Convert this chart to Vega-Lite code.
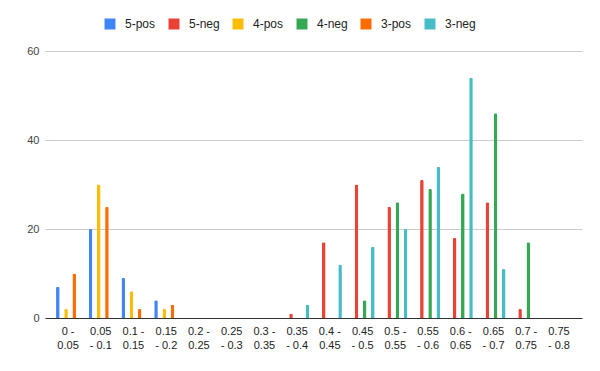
{
  "$schema": "https://vega.github.io/schema/vega-lite/v6.json",
  "width": 537,
  "height": 267,
  "autosize": {"type": "none"},
  "padding": {"left": 45, "top": 51, "right": 18, "bottom": 53},
  "background": "white",
  "config": {
    "view": {"stroke": null},
    "font": "Liberation Sans"
  },
  "data": {
    "values": [
      {"bin": "0 - 0.05", "series": "5-pos", "count": 7},
      {"bin": "0 - 0.05", "series": "5-neg", "count": 0},
      {"bin": "0 - 0.05", "series": "4-pos", "count": 2},
      {"bin": "0 - 0.05", "series": "4-neg", "count": 0},
      {"bin": "0 - 0.05", "series": "3-pos", "count": 10},
      {"bin": "0 - 0.05", "series": "3-neg", "count": 0},
      {"bin": "0.05 - 0.1", "series": "5-pos", "count": 20},
      {"bin": "0.05 - 0.1", "series": "5-neg", "count": 0},
      {"bin": "0.05 - 0.1", "series": "4-pos", "count": 30},
      {"bin": "0.05 - 0.1", "series": "4-neg", "count": 0},
      {"bin": "0.05 - 0.1", "series": "3-pos", "count": 25},
      {"bin": "0.05 - 0.1", "series": "3-neg", "count": 0},
      {"bin": "0.1 - 0.15", "series": "5-pos", "count": 9},
      {"bin": "0.1 - 0.15", "series": "5-neg", "count": 0},
      {"bin": "0.1 - 0.15", "series": "4-pos", "count": 6},
      {"bin": "0.1 - 0.15", "series": "4-neg", "count": 0},
      {"bin": "0.1 - 0.15", "series": "3-pos", "count": 2},
      {"bin": "0.1 - 0.15", "series": "3-neg", "count": 0},
      {"bin": "0.15 - 0.2", "series": "5-pos", "count": 4},
      {"bin": "0.15 - 0.2", "series": "5-neg", "count": 0},
      {"bin": "0.15 - 0.2", "series": "4-pos", "count": 2},
      {"bin": "0.15 - 0.2", "series": "4-neg", "count": 0},
      {"bin": "0.15 - 0.2", "series": "3-pos", "count": 3},
      {"bin": "0.15 - 0.2", "series": "3-neg", "count": 0},
      {"bin": "0.2 - 0.25", "series": "5-pos", "count": 0},
      {"bin": "0.2 - 0.25", "series": "5-neg", "count": 0},
      {"bin": "0.2 - 0.25", "series": "4-pos", "count": 0},
      {"bin": "0.2 - 0.25", "series": "4-neg", "count": 0},
      {"bin": "0.2 - 0.25", "series": "3-pos", "count": 0},
      {"bin": "0.2 - 0.25", "series": "3-neg", "count": 0},
      {"bin": "0.25 - 0.3", "series": "5-pos", "count": 0},
      {"bin": "0.25 - 0.3", "series": "5-neg", "count": 0},
      {"bin": "0.25 - 0.3", "series": "4-pos", "count": 0},
      {"bin": "0.25 - 0.3", "series": "4-neg", "count": 0},
      {"bin": "0.25 - 0.3", "series": "3-pos", "count": 0},
      {"bin": "0.25 - 0.3", "series": "3-neg", "count": 0},
      {"bin": "0.3 - 0.35", "series": "5-pos", "count": 0},
      {"bin": "0.3 - 0.35", "series": "5-neg", "count": 0},
      {"bin": "0.3 - 0.35", "series": "4-pos", "count": 0},
      {"bin": "0.3 - 0.35", "series": "4-neg", "count": 0},
      {"bin": "0.3 - 0.35", "series": "3-pos", "count": 0},
      {"bin": "0.3 - 0.35", "series": "3-neg", "count": 0},
      {"bin": "0.35 - 0.4", "series": "5-pos", "count": 0},
      {"bin": "0.35 - 0.4", "series": "5-neg", "count": 1},
      {"bin": "0.35 - 0.4", "series": "4-pos", "count": 0},
      {"bin": "0.35 - 0.4", "series": "4-neg", "count": 0},
      {"bin": "0.35 - 0.4", "series": "3-pos", "count": 0},
      {"bin": "0.35 - 0.4", "series": "3-neg", "count": 3},
      {"bin": "0.4 - 0.45", "series": "5-pos", "count": 0},
      {"bin": "0.4 - 0.45", "series": "5-neg", "count": 17},
      {"bin": "0.4 - 0.45", "series": "4-pos", "count": 0},
      {"bin": "0.4 - 0.45", "series": "4-neg", "count": 0},
      {"bin": "0.4 - 0.45", "series": "3-pos", "count": 0},
      {"bin": "0.4 - 0.45", "series": "3-neg", "count": 12},
      {"bin": "0.45 - 0.5", "series": "5-pos", "count": 0},
      {"bin": "0.45 - 0.5", "series": "5-neg", "count": 30},
      {"bin": "0.45 - 0.5", "series": "4-pos", "count": 0},
      {"bin": "0.45 - 0.5", "series": "4-neg", "count": 4},
      {"bin": "0.45 - 0.5", "series": "3-pos", "count": 0},
      {"bin": "0.45 - 0.5", "series": "3-neg", "count": 16},
      {"bin": "0.5 - 0.55", "series": "5-pos", "count": 0},
      {"bin": "0.5 - 0.55", "series": "5-neg", "count": 25},
      {"bin": "0.5 - 0.55", "series": "4-pos", "count": 0},
      {"bin": "0.5 - 0.55", "series": "4-neg", "count": 26},
      {"bin": "0.5 - 0.55", "series": "3-pos", "count": 0},
      {"bin": "0.5 - 0.55", "series": "3-neg", "count": 20},
      {"bin": "0.55 - 0.6", "series": "5-pos", "count": 0},
      {"bin": "0.55 - 0.6", "series": "5-neg", "count": 31},
      {"bin": "0.55 - 0.6", "series": "4-pos", "count": 0},
      {"bin": "0.55 - 0.6", "series": "4-neg", "count": 29},
      {"bin": "0.55 - 0.6", "series": "3-pos", "count": 0},
      {"bin": "0.55 - 0.6", "series": "3-neg", "count": 34},
      {"bin": "0.6 - 0.65", "series": "5-pos", "count": 0},
      {"bin": "0.6 - 0.65", "series": "5-neg", "count": 18},
      {"bin": "0.6 - 0.65", "series": "4-pos", "count": 0},
      {"bin": "0.6 - 0.65", "series": "4-neg", "count": 28},
      {"bin": "0.6 - 0.65", "series": "3-pos", "count": 0},
      {"bin": "0.6 - 0.65", "series": "3-neg", "count": 54},
      {"bin": "0.65 - 0.7", "series": "5-pos", "count": 0},
      {"bin": "0.65 - 0.7", "series": "5-neg", "count": 26},
      {"bin": "0.65 - 0.7", "series": "4-pos", "count": 0},
      {"bin": "0.65 - 0.7", "series": "4-neg", "count": 46},
      {"bin": "0.65 - 0.7", "series": "3-pos", "count": 0},
      {"bin": "0.65 - 0.7", "series": "3-neg", "count": 11},
      {"bin": "0.7 - 0.75", "series": "5-pos", "count": 0},
      {"bin": "0.7 - 0.75", "series": "5-neg", "count": 2},
      {"bin": "0.7 - 0.75", "series": "4-pos", "count": 0},
      {"bin": "0.7 - 0.75", "series": "4-neg", "count": 17},
      {"bin": "0.7 - 0.75", "series": "3-pos", "count": 0},
      {"bin": "0.7 - 0.75", "series": "3-neg", "count": 0},
      {"bin": "0.75 - 0.8", "series": "5-pos", "count": 0},
      {"bin": "0.75 - 0.8", "series": "5-neg", "count": 0},
      {"bin": "0.75 - 0.8", "series": "4-pos", "count": 0},
      {"bin": "0.75 - 0.8", "series": "4-neg", "count": 0},
      {"bin": "0.75 - 0.8", "series": "3-pos", "count": 0},
      {"bin": "0.75 - 0.8", "series": "3-neg", "count": 0}
    ]
  },
  "mark": {"type": "bar", "cornerRadiusTopLeft": 1.5, "cornerRadiusTopRight": 1.5},
  "encoding": {
    "x": {
      "field": "bin",
      "type": "nominal",
      "sort": null,
      "scale": {"paddingInner": 0.265, "paddingOuter": 0.337},
      "axis": {
        "title": null,
        "labelAngle": 0,
        "ticks": false,
        "domain": true,
        "domainColor": "#333333",
        "labelFontSize": 11,
        "labelColor": "#222222",
        "labelLineHeight": 14,
        "labelPadding": 7,
        "labelExpr": "length(split(datum.label,' ')[0]) <= 3 ? [split(datum.label,' ')[0] + ' -', split(datum.label,' ')[2]] : [split(datum.label,' ')[0], '- ' + split(datum.label,' ')[2]]"
      }
    },
    "xOffset": {
      "field": "series",
      "type": "nominal",
      "sort": ["5-pos", "5-neg", "4-pos", "4-neg", "3-pos", "3-neg"],
      "scale": {"paddingInner": 0.12, "paddingOuter": 0}
    },
    "y": {
      "field": "count",
      "type": "quantitative",
      "scale": {"domain": [0, 60], "nice": false},
      "axis": {
        "title": null,
        "values": [0, 20, 40, 60],
        "ticks": false,
        "domain": false,
        "gridColor": "#cccccc",
        "labelFontSize": 11,
        "labelColor": "#444444",
        "labelPadding": 6
      }
    },
    "color": {
      "field": "series",
      "type": "nominal",
      "sort": ["5-pos", "5-neg", "4-pos", "4-neg", "3-pos", "3-neg"],
      "scale": {
        "domain": ["5-pos", "5-neg", "4-pos", "4-neg", "3-pos", "3-neg"],
        "range": ["#4285F4", "#EA4335", "#FBBC04", "#34A853", "#FF6D01", "#46BDC6"]
      },
      "legend": {
        "title": null,
        "orient": "none",
        "legendX": 59,
        "legendY": -33,
        "direction": "horizontal",
        "symbolType": "square",
        "symbolSize": 121,
        "symbolStrokeWidth": 0,
        "labelFontSize": 12,
        "labelColor": "#222222",
        "labelOffset": 9,
        "columnPadding": 12
      }
    }
  }
}
